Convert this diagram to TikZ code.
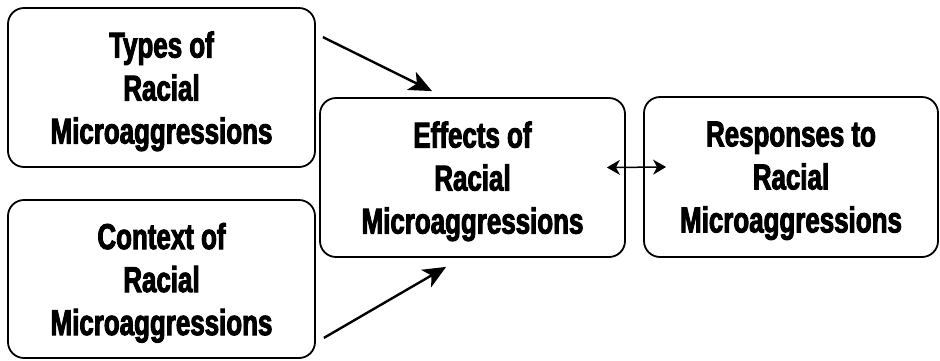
\documentclass[tikz,border=0pt]{standalone}
\usepackage{fontspec}
\setmainfont{Liberation Sans}[FakeStretch=0.72, BoldFeatures={FakeBold=2.6}]
\usepackage{tikz}
\usetikzlibrary{arrows.meta,positioning}

\tikzset{
  box/.style={draw, line width=1.8pt, rounded corners=16pt, align=center, text depth=0pt,
    font=\fontsize{36}{43}\selectfont\bfseries},
  arr/.style={line width=2.4pt, -{Stealth[length=23pt,width=20pt,inset=6pt]}},
  darr/.style={line width=1.5pt, {Stealth[length=13pt,width=15pt,inset=4pt]}-{Stealth[length=13pt,width=15pt,inset=4pt]}}
}

\begin{document}
\begin{tikzpicture}[x=1pt,y=-1pt]
\useasboundingbox (0,0) rectangle (940,360);
\node[box, minimum width=307pt, minimum height=159pt] (types) at (161.5,87.5) {Types of\\Racial\\Microaggressions};
\node[box, minimum width=307pt, minimum height=158pt] (context) at (161.5,279) {Context of\\Racial\\Microaggressions};
\node[box, minimum width=305pt, minimum height=159pt] (effects) at (472.5,177.5) {Effects of\\Racial\\Microaggressions};
\node[box, minimum width=294pt, minimum height=160pt] (responses) at (791,177) {Responses to\\Racial\\Microaggressions};
% arrows into the effects box
\draw[arr] ([xshift=7pt,yshift=-30pt]types.north east) -- ([xshift=113pt,yshift=6pt]effects.north west);
\draw[arr] ([xshift=8pt,yshift=21pt]context.south east) -- ([xshift=127pt,yshift=-9pt]effects.south west);
\draw[darr] ([xshift=-19pt,yshift=10pt]effects.east) -- ([xshift=23pt,yshift=10pt]responses.west);
\end{tikzpicture}
\end{document}
